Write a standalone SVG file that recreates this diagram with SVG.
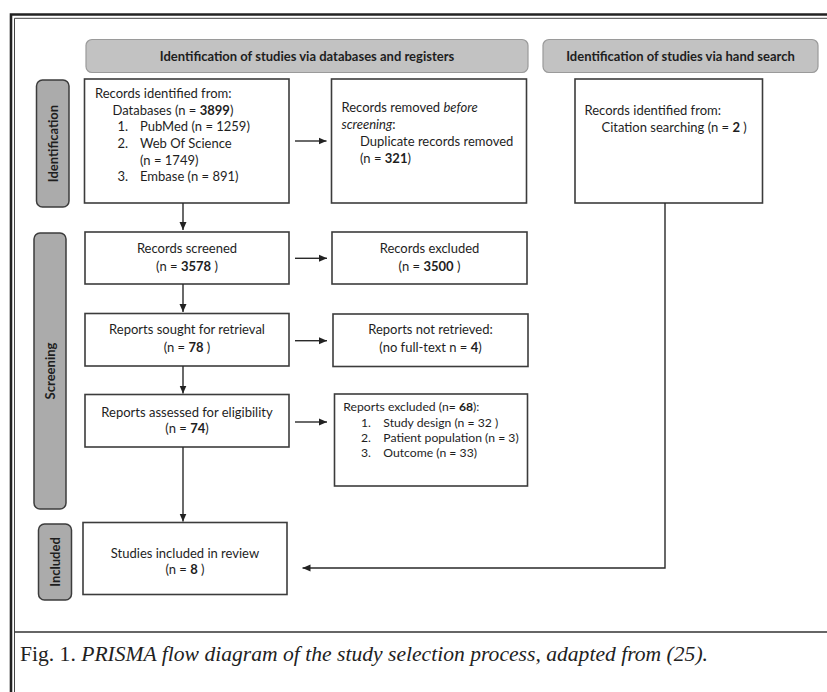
<svg xmlns="http://www.w3.org/2000/svg" width="827" height="692" viewBox="0 0 827 692">
<defs>
<marker id="ah" markerWidth="8" markerHeight="8" refX="8" refY="4" orient="auto" markerUnits="userSpaceOnUse">
<path d="M0,0.5 L8,4 L0,7.5 Z" fill="#222"/>
</marker>
<style>
.box{fill:#fff;stroke:#3c3c3c;stroke-width:1.6}
.hdr{fill:#c2c2c2;stroke:#9a9a9a;stroke-width:1.2}
.bar{fill:#ababab;stroke:#3c3c3c;stroke-width:1.5}
.t{font-family:Lato,"Liberation Sans",sans-serif;font-size:13px;fill:#1e1e1e}
.s{font-size:12.2px}
.c{text-anchor:middle}
.b{font-weight:bold}
.ht{font-family:Lato,"Liberation Sans",sans-serif;font-size:13px;font-weight:bold;fill:#1e1e1e;text-anchor:middle}
.vt{font-family:Lato,"Liberation Sans",sans-serif;font-size:13px;font-weight:bold;fill:#1e1e1e;text-anchor:middle}
.ln{fill:none;stroke:#2a2a2a;stroke-width:1.4}
.cap{font-family:"Liberation Serif",serif;font-size:22px;fill:#222}
</style>
</defs>
<rect x="0" y="0" width="827" height="692" fill="#fff"/>
<g id="frame">
<path d="M11,692 V14.5 H827" fill="none" stroke="#222" stroke-width="2.6"/>
<path d="M14.5,692 V18.3 H827" fill="none" stroke="#444" stroke-width="1"/>
<line x1="14.5" y1="632" x2="827" y2="632" stroke="#333" stroke-width="1.6"/>
</g>
<g id="header-db"><rect class="hdr" x="86" y="39.5" width="442" height="33" rx="6"/><text class="ht" x="307" y="60.5">Identification of studies via databases and registers</text></g>
<g id="header-hand"><rect class="hdr" x="543" y="39.5" width="275" height="33" rx="6"/><text class="ht" x="680.5" y="60.5">Identification of studies via hand search</text></g>
<g id="bar-identification"><rect class="bar" x="36.5" y="80" width="32.5" height="127" rx="6"/><text class="vt" transform="translate(57.5,143.5) rotate(-90)">Identification</text></g>
<g id="bar-screening"><rect class="bar" x="34" y="233" width="32" height="276" rx="6"/><text class="vt" transform="translate(55,371) rotate(-90)">Screening</text></g>
<g id="bar-included"><rect class="bar" x="38.5" y="524" width="33" height="76" rx="6"/><text class="vt" transform="translate(59.5,562) rotate(-90)">Included</text></g>
<g id="records-identified"><rect class="box" x="84.5" y="79" width="204.5" height="124"/>
<text class="t" x="95" y="98">Records identified from:</text>
<text class="t" x="112.5" y="114.7">Databases (n = <tspan class="b">3899</tspan>)</text>
<text class="t" x="117.5" y="131.3">1.</text><text class="t" x="140" y="131.3">PubMed (n = 1259)</text>
<text class="t" x="117.5" y="148">2.</text><text class="t" x="140" y="148">Web Of Science</text>
<text class="t" x="140" y="164.7">(n = 1749)</text>
<text class="t" x="117.5" y="181">3.</text><text class="t" x="140" y="181">Embase (n = 891)</text>
</g>
<g id="records-removed"><rect class="box" x="331.5" y="79" width="195" height="124"/>
<text class="t" x="341.5" y="111.7">Records removed <tspan font-style="italic">before</tspan></text>
<text class="t" x="341.5" y="128.5"><tspan font-style="italic">screening</tspan>:</text>
<text class="t" x="360" y="145.5">Duplicate records removed</text>
<text class="t" x="360" y="162.5">(n = <tspan class="b">321</tspan>)</text>
</g>
<g id="hand-search"><rect class="box" x="575" y="79" width="187.5" height="124"/>
<text class="t" x="584.5" y="115">Records identified from:</text>
<text class="t" x="601.5" y="131.7">Citation searching (n = <tspan class="b">2</tspan> )</text>
</g>
<g id="records-screened"><rect class="box" x="85" y="232" width="204" height="52"/>
<text class="t c" x="187" y="253.3">Records screened</text>
<text class="t c" x="187" y="270.7">(n = <tspan class="b">3578</tspan> )</text>
</g>
<g id="records-excluded"><rect class="box" x="332" y="232" width="195" height="52"/>
<text class="t c" x="429.5" y="253.3">Records excluded</text>
<text class="t c" x="429.5" y="270.7">(n = <tspan class="b">3500</tspan> )</text>
</g>
<g id="reports-sought"><rect class="box" x="85" y="313.5" width="204" height="52.5"/>
<text class="t c" x="187" y="334.3">Reports sought for retrieval</text>
<text class="t c" x="187" y="352.3">(n = <tspan class="b">78</tspan> )</text>
</g>
<g id="reports-not-retrieved"><rect class="box" x="333" y="314" width="195" height="52.5"/>
<text class="t c" x="430.5" y="334.3">Reports not retrieved:</text>
<text class="t c" x="430.5" y="352.3">(no full-text n = <tspan class="b">4</tspan>)</text>
</g>
<g id="reports-assessed"><rect class="box" x="85" y="394.5" width="204" height="52.5"/>
<text class="t c" x="187" y="416.7">Reports assessed for eligibility</text>
<text class="t c" x="187" y="433.3">(n = <tspan class="b">74</tspan>)</text>
</g>
<g id="reports-excluded"><rect class="box" x="334.5" y="394" width="193" height="92"/>
<text class="t s" x="343.3" y="410.7">Reports excluded (n= <tspan class="b">68</tspan>):</text>
<text class="t s" x="361" y="426.5">1.</text><text class="t s" x="383.3" y="426.5">Study design (n = 32 )</text>
<text class="t s" x="361" y="441.7">2.</text><text class="t s" x="383.3" y="441.7">Patient population (n = 3)</text>
<text class="t s" x="361" y="456.7">3.</text><text class="t s" x="383.3" y="456.7">Outcome (n = 33)</text>
</g>
<g id="studies-included"><rect class="box" x="83" y="522.5" width="204" height="72"/>
<text class="t c" x="185" y="558.3">Studies included in review</text>
<text class="t c" x="185" y="573.8">(n = <tspan class="b">8</tspan> )</text>
</g>
<g id="connectors">
<line class="ln" x1="183" y1="203" x2="183" y2="230" marker-end="url(#ah)"/>
<line class="ln" x1="183" y1="284" x2="183" y2="312" marker-end="url(#ah)"/>
<line class="ln" x1="183" y1="366" x2="183" y2="393.5" marker-end="url(#ah)"/>
<line class="ln" x1="183" y1="447" x2="183" y2="521.5" marker-end="url(#ah)"/>
<line class="ln" x1="295" y1="141" x2="326.5" y2="141" marker-end="url(#ah)"/>
<line class="ln" x1="295" y1="258.3" x2="327" y2="258.3" marker-end="url(#ah)"/>
<line class="ln" x1="295" y1="340.7" x2="327" y2="340.7" marker-end="url(#ah)"/>
<line class="ln" x1="295" y1="422" x2="327" y2="422" marker-end="url(#ah)"/>
<polyline class="ln" points="665,203 665,568 302.5,568" marker-end="url(#ah)"/>
</g>
<g id="caption">
<text class="cap" x="20" y="661" textLength="688" lengthAdjust="spacingAndGlyphs">Fig. 1. <tspan font-style="italic">PRISMA flow diagram of the study selection process, adapted from (25).</tspan></text>
</g>
</svg>
